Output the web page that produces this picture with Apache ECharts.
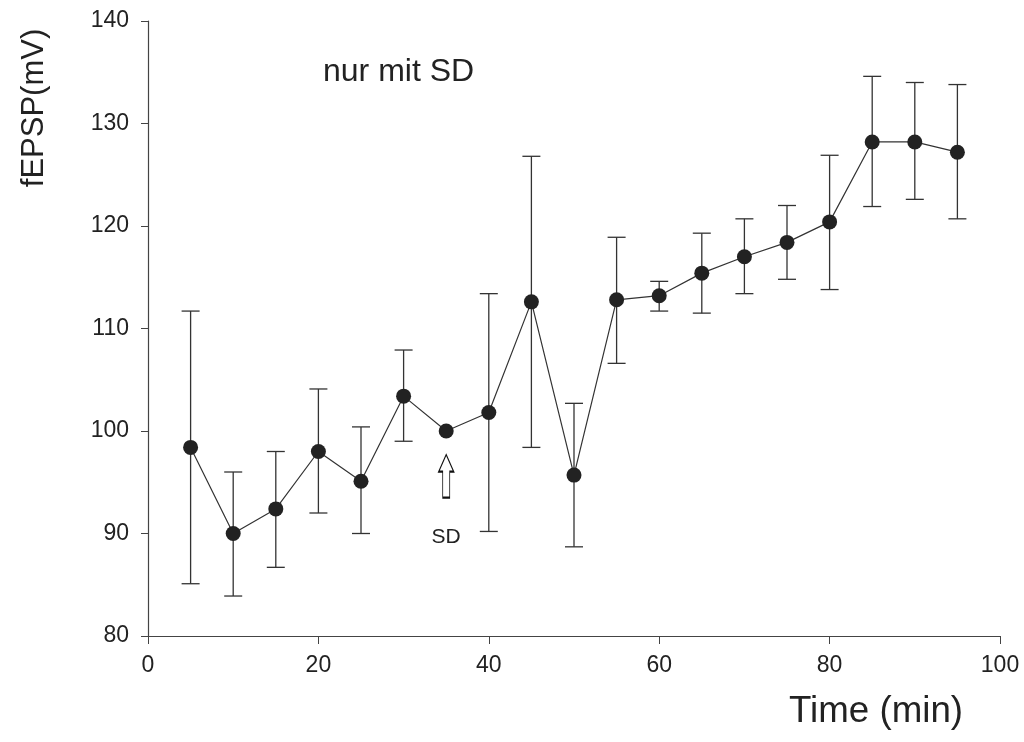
<!DOCTYPE html>
<html>
<head>
<meta charset="utf-8">
<script src="https://cdn.jsdelivr.net/npm/echarts@6/dist/echarts.min.js"></script>
<style>
html,body{margin:0;padding:0;background:#fff;}
#chart{width:1024px;height:742px;}
</style>
</head>
<body>
<div id="chart"></div>
<script>
// Data
const times = [5, 10, 15, 20, 25, 30, 35, 40, 45, 50, 55, 60, 65, 70, 75, 80, 85, 90, 95];
const meanValues = [98.4, 90.0, 92.4, 98.0, 95.1, 103.4, 100.0, 101.8, 112.6, 95.7, 112.8, 113.2, 115.4, 117.0, 118.4, 120.4, 128.2, 128.2, 127.2];
const upperValues = [111.7, 96.0, 98.0, 104.1, 100.4, 107.9, null, 113.4, 126.8, 102.7, 118.9, 114.6, 119.3, 120.7, 122.0, 126.9, 134.6, 134.0, 133.8];
const lowerValues = [85.1, 83.9, 86.7, 92.0, 90.0, 99.0, null, 90.2, 98.4, 88.7, 106.6, 111.7, 111.5, 113.4, 114.8, 113.8, 121.9, 122.6, 120.7];
const xTicks = [0, 20, 40, 60, 80, 100];
const yTicks = [80, 90, 100, 110, 120, 130, 140];
const sdTime = 35;
const arrowValue = 95.6;
const sdLabelValue = 89.6;

const FONT = '"Liberation Sans", Arial, sans-serif';
const INK = '#222';
const LINE = '#333';
const AXIS = '#444';

const chart = echarts.init(document.getElementById('chart'));

const meanData = times.map((t, i) => [t, meanValues[i]]);
const errData = [];
times.forEach((t, i) => {
  if (upperValues[i] != null && lowerValues[i] != null) errData.push([t, lowerValues[i], upperValues[i]]);
});

const option = {
  animation: false,
  backgroundColor: '#fff',
  grid: { left: 148, right: 24, top: 21, bottom: 106, containLabel: false },
  xAxis: {
    type: 'value', min: xTicks[0], max: xTicks[xTicks.length - 1], interval: 20,
    axisLine: { show: true, onZero: false, lineStyle: { color: AXIS, width: 1.2 } },
    axisTick: { show: true, inside: false, length: 8, lineStyle: { color: AXIS, width: 1 } },
    axisLabel: { color: INK, fontFamily: FONT, fontSize: 23, margin: 18 },
    splitLine: { show: false }
  },
  yAxis: {
    type: 'value', min: yTicks[0], max: yTicks[yTicks.length - 1], interval: 10,
    axisLine: { show: true, onZero: false, lineStyle: { color: AXIS, width: 1.2 } },
    axisTick: { show: true, inside: false, length: 7, lineStyle: { color: AXIS, width: 1 } },
    axisLabel: { color: INK, fontFamily: FONT, fontSize: 23, margin: 19 },
    splitLine: { show: false }
  },
  graphic: [
    { type: 'text', left: 323, top: 56, style: { text: 'nur mit SD', fill: INK, font: '32px ' + FONT } },
    { type: 'text', x: 876, y: 712, scaleX: 1.02, style: { text: 'Time (min)', fill: INK, font: '36px ' + FONT, textAlign: 'center', textVerticalAlign: 'middle' } },
    { type: 'text', x: 34, y: 108, rotation: Math.PI / 2, style: { text: 'fEPSP(mV)', fill: INK, font: '31px ' + FONT, textAlign: 'center', textVerticalAlign: 'middle' } }
  ],
  series: [
    {
      type: 'custom',
      name: 'sd',
      z: 2,
      data: errData,
      renderItem: function (params, api) {
        const x = api.value(0);
        const lo = api.coord([x, api.value(1)]);
        const hi = api.coord([x, api.value(2)]);
        const hw = 9;
        const style = { stroke: LINE, lineWidth: 1.3 };
        return {
          type: 'group',
          children: [
            { type: 'line', shape: { x1: hi[0], y1: hi[1], x2: lo[0], y2: lo[1] }, style: style },
            { type: 'line', shape: { x1: hi[0] - hw, y1: hi[1], x2: hi[0] + hw, y2: hi[1] }, style: style },
            { type: 'line', shape: { x1: lo[0] - hw, y1: lo[1], x2: lo[0] + hw, y2: lo[1] }, style: style }
          ]
        };
      }
    },
    {
      type: 'line',
      name: 'mean',
      z: 3,
      data: meanData,
      symbol: 'circle',
      symbolSize: 15,
      lineStyle: { color: LINE, width: 1.2 },
      itemStyle: { color: INK, borderWidth: 0 },
      markPoint: {
        silent: true,
        data: [
          {
            coord: [sdTime, arrowValue],
            symbol: 'path://M7.5,0 L15,17 L11,17 L11,43 L4,43 L4,17 L0,17 Z',
            symbolSize: [15, 43],
            itemStyle: { color: 'rgba(0,0,0,0)', borderColor: '#111', borderWidth: 1.3 },
            label: { show: false }
          },
          {
            coord: [sdTime, sdLabelValue],
            symbol: 'circle',
            symbolSize: 1,
            itemStyle: { color: 'rgba(0,0,0,0)' },
            label: { show: true, position: 'inside', formatter: 'SD', color: INK, fontFamily: FONT, fontSize: 21 }
          }
        ]
      }
    }
  ]
};
chart.setOption(option);
</script>
</body>
</html>
